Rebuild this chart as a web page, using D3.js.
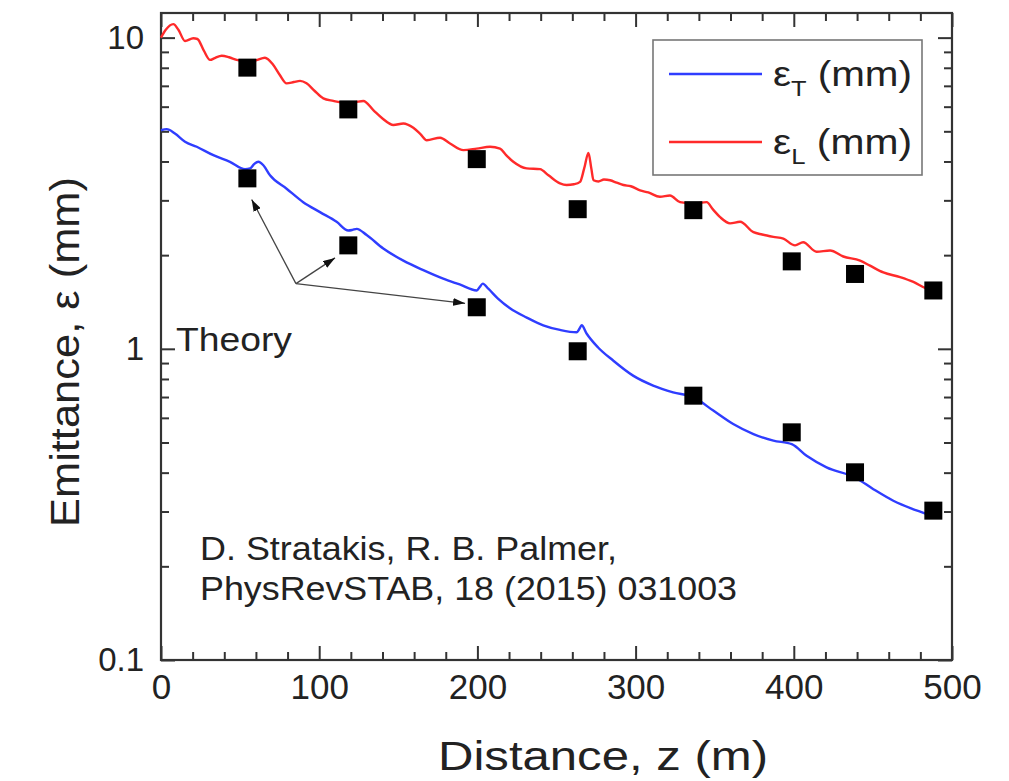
<!DOCTYPE html>
<html>
<head>
<meta charset="utf-8">
<script src="https://cdn.jsdelivr.net/npm/d3@7"></script>
<style>
  html, body { margin: 0; padding: 0; background: #fff; }
  svg { display: block; }
  text { font-family: "Liberation Sans", Arial, Helvetica, sans-serif; fill: #222; }
</style>
</head>
<body>
<svg id="chart" width="1009" height="781"></svg>
<script>
// Simulated longitudinal emittance along the channel (z in m, eps in mm)
const simZL = [0, 3, 7.8, 11, 15.2, 20.4, 23, 27, 31, 34, 38.4, 43, 47.8, 54.6, 60, 65.7, 71, 75, 79.4, 84,
  87.9, 92, 97, 102.6, 108.9, 118.4, 123, 127.9, 134.2, 140, 146.9, 153.2, 159.5, 164, 168, 176.4, 182.7,
  191.2, 199.6, 208, 214.3, 218, 222.7, 231.2, 239.6, 244.9, 252.2, 256.4, 261, 264.9, 267.5, 270.2, 272,
  273.4, 276.5, 280, 283.9, 288, 292.3, 297, 302.8, 308, 315.4, 321.7, 328.1, 336.5, 344.9, 349, 353.4,
  359.7, 366, 374.5, 380, 387.1, 393.4, 400.8, 405.9, 414.4, 422.9, 431.3, 441.9, 448.2, 456.6, 467.2,
  475.6, 484.1, 488.2];
const simEpsL = [10.0, 10.6, 11.05, 10.6, 9.75, 9.95, 9.9, 9.1, 8.48, 8.6, 8.75, 8.65, 8.48, 8.37, 8.45, 8.62,
  8.17, 7.6, 7.13, 7.2, 7.26, 7.13, 6.75, 6.38, 6.26, 6.15, 6.2, 6.26, 5.85, 5.5, 5.24, 5.30, 5.13, 4.9, 4.68,
  4.77, 4.57, 4.35, 4.40, 4.46, 4.40, 4.2, 3.99, 3.80, 3.78, 3.61, 3.40, 3.36, 3.38, 3.44, 3.8, 4.26, 3.8,
  3.48, 3.45, 3.5, 3.48, 3.42, 3.36, 3.33, 3.23, 3.18, 3.08, 3.11, 2.96, 2.93, 2.96, 2.8, 2.65, 2.53, 2.56,
  2.37, 2.33, 2.29, 2.26, 2.15, 2.20, 2.05, 2.07, 1.98, 1.92, 1.85, 1.76, 1.70, 1.64, 1.56, 1.54];

// Simulated transverse emittance
const simZT = [0, 3.6, 8.8, 15.2, 22.6, 33.1, 43.6, 53.1, 56.3, 59, 61.5, 64.7, 68.9, 79.4, 89.9, 100.5, 111,
  118.4, 121, 123.7, 130, 140.5, 153.2, 165.8, 178.4, 188.8, 199.6, 201.5, 203.4, 206.9, 213, 220.6, 231.2,
  241.6, 252.2, 262.7, 264.5, 265.9, 269, 276.3, 285.8, 298.4, 311.1, 323.7, 336.5, 349.1, 361.7, 374.5,
  387.1, 398.7, 408.1, 420.7, 438.7, 450.3, 462.9, 475.6, 484.1, 488.2];
const simEpsT = [5.04, 5.08, 4.92, 4.63, 4.46, 4.19, 3.99, 3.78, 3.80, 3.93, 3.99, 3.89, 3.61, 3.27, 2.96, 2.75,
  2.56, 2.40, 2.41, 2.43, 2.32, 2.10, 1.92, 1.79, 1.68, 1.61, 1.54, 1.58, 1.62, 1.56, 1.45, 1.35, 1.26, 1.19,
  1.15, 1.13, 1.16, 1.19, 1.12, 1.01, 0.917, 0.82, 0.762, 0.725, 0.699, 0.633, 0.573, 0.532, 0.507, 0.494,
  0.453, 0.416, 0.386, 0.354, 0.325, 0.305, 0.294, 0.287];

// Theory points (black squares)
const theoryZ = [54.6, 118.4, 199.6, 263.4, 336.5, 398.7, 438.7, 488.2];
const theoryEpsL = [8.01, 5.88, 4.07, 2.81, 2.79, 1.91, 1.74, 1.54];
const theoryEpsT = [3.53, 2.15, 1.36, 0.982, 0.707, 0.539, 0.401, 0.302];

// Axis ticks
const xMajorTicks = [0, 100, 200, 300, 400, 500];
const xMinorTicks = d3.range(0, 501, 20).filter(v => v % 100 !== 0);
const yMajorTicks = [0.1, 1, 10];
const yTickLabels = ["0.1", "1", "10"];
const yMinorTicks = [0.2, 0.3, 0.4, 0.5, 0.6, 0.7, 0.8, 0.9, 2, 3, 4, 5, 6, 7, 8, 9];

// Annotation: arrows from the "Theory" label to the first three squares
const arrowFrom = [85.3, 1.62];
const arrowTips = [[57.3, 3.02], [110, 1.96], [192.2, 1.40]];

const legendItems = [
  { sym: "ε", sub: "T", unit: " (mm)", color: "#2f3dff" },
  { sym: "ε", sub: "L", unit: " (mm)", color: "#ff2a2a" }
];

const citationLines = ["D. Stratakis, R. B. Palmer,", "PhysRevSTAB, 18 (2015) 031003"];

const svg = d3.select("#chart");
const plotLeft = 161, plotTop = 13, plotRight = 952, plotBottom = 660;

const x = d3.scaleLinear().domain([0, 500]).range([plotLeft, plotRight]);
const y = d3.scaleLog().domain([0.1, 12]).range([plotBottom, plotTop]);

const frameColor = "#333";

// Axes with inward ticks on all four sides
function drawAxis(axisFn, scale, ticks, size, labels, translate, cls) {
  const ax = axisFn(scale).tickValues(ticks).tickSize(size).tickSizeOuter(0);
  if (labels) ax.tickFormat((d, i) => labels[i]); else ax.tickFormat("");
  const g = svg.append("g").attr("class", cls).attr("transform", translate).call(ax);
  g.select(".domain").remove();
  g.selectAll(".tick line").attr("stroke", frameColor).attr("stroke-width", 2);
  return g;
}

const majLen = 14, minLen = 8;
// bottom
const xb = drawAxis(d3.axisBottom, x, xMajorTicks, -majLen, xMajorTicks.map(String), `translate(0,${plotBottom})`, "xb");
xb.selectAll(".tick text").attr("y", 14).attr("dy", "0.71em").style("font-size", "35px").attr("fill", "#222");
drawAxis(d3.axisBottom, x, xMinorTicks, -minLen, null, `translate(0,${plotBottom})`, "xbm");
// top
drawAxis(d3.axisTop, x, xMajorTicks, -majLen, null, `translate(0,${plotTop})`, "xt");
drawAxis(d3.axisTop, x, xMinorTicks, -minLen, null, `translate(0,${plotTop})`, "xtm");
// left
const yl = drawAxis(d3.axisLeft, y, yMajorTicks, -majLen, yTickLabels, `translate(${plotLeft},0)`, "yl");
yl.selectAll(".tick text").attr("x", -17).style("font-size", "33px").attr("fill", "#222");
drawAxis(d3.axisLeft, y, yMinorTicks, -minLen, null, `translate(${plotLeft},0)`, "ylm");
// right
drawAxis(d3.axisRight, y, yMajorTicks, -majLen, null, `translate(${plotRight},0)`, "yr");
drawAxis(d3.axisRight, y, yMinorTicks, -minLen, null, `translate(${plotRight},0)`, "yrm");

// Plot frame
svg.append("rect")
  .attr("x", plotLeft).attr("y", plotTop)
  .attr("width", plotRight - plotLeft).attr("height", plotBottom - plotTop)
  .attr("fill", "none").attr("stroke", frameColor).attr("stroke-width", 2.2);

// Simulation curves
const line = d3.line().x(d => x(d[0])).y(d => y(d[1])).curve(d3.curveMonotoneX);
const curveL = simZL.map((z, i) => [z, simEpsL[i]]);
const curveT = simZT.map((z, i) => [z, simEpsT[i]]);

svg.append("path").datum(curveL).attr("d", line)
  .attr("fill", "none").attr("stroke", legendItems[1].color).attr("stroke-width", 2.4)
  .attr("stroke-linejoin", "round");
svg.append("path").datum(curveT).attr("d", line)
  .attr("fill", "none").attr("stroke", legendItems[0].color).attr("stroke-width", 2.4)
  .attr("stroke-linejoin", "round");

// Theory squares
const sq = 18;
const pts = theoryZ.map((z, i) => [z, theoryEpsL[i]]).concat(theoryZ.map((z, i) => [z, theoryEpsT[i]]));
svg.append("g").selectAll("rect").data(pts).join("rect")
  .attr("x", d => x(d[0]) - sq / 2).attr("y", d => y(d[1]) - sq / 2)
  .attr("width", sq).attr("height", sq).attr("fill", "#000");

// Arrows
const defs = svg.append("defs");
defs.append("marker").attr("id", "head")
  .attr("viewBox", "0 0 12 8").attr("refX", 12).attr("refY", 4)
  .attr("markerWidth", 12).attr("markerHeight", 8)
  .attr("markerUnits", "userSpaceOnUse").attr("orient", "auto")
  .append("path").attr("d", "M0,0 L12,4 L0,8 Z").attr("fill", "#111");

svg.append("g").selectAll("line").data(arrowTips).join("line")
  .attr("x1", x(arrowFrom[0])).attr("y1", y(arrowFrom[1]))
  .attr("x2", d => x(d[0])).attr("y2", d => y(d[1]))
  .attr("stroke", "#444").attr("stroke-width", 1.3)
  .attr("marker-end", "url(#head)");

svg.append("text").attr("x", 176).attr("y", 351)
  .style("font-size", "34px")
  .attr("textLength", 116).attr("lengthAdjust", "spacingAndGlyphs")
  .text("Theory");

// Citation
const citeWidths = [417, 537];
citationLines.forEach((s, i) => {
  svg.append("text").attr("x", 200).attr("y", 560 + i * 40)
    .style("font-size", "34px")
    .attr("textLength", citeWidths[i]).attr("lengthAdjust", "spacingAndGlyphs")
    .text(s);
});

// Axis titles
svg.append("text").attr("x", 438).attr("y", 770)
  .style("font-size", "41px")
  .attr("textLength", 330).attr("lengthAdjust", "spacingAndGlyphs")
  .text("Distance, z (m)");
svg.append("text").attr("transform", "translate(79,527) rotate(-90)")
  .style("font-size", "40px")
  .attr("textLength", 350).attr("lengthAdjust", "spacingAndGlyphs")
  .text("Emittance, ε (mm)");

// Legend
const lg = svg.append("g");
lg.append("rect").attr("x", 653).attr("y", 40).attr("width", 269).attr("height", 135)
  .attr("fill", "#fff").attr("stroke", "#777").attr("stroke-width", 1.6);
legendItems.forEach((it, i) => {
  const ly = 74 + i * 68;
  lg.append("line").attr("x1", 669).attr("x2", 762).attr("y1", ly).attr("y2", ly)
    .attr("stroke", it.color).attr("stroke-width", 2.4);
  const t = lg.append("text").attr("x", 773).attr("y", ly + 12).style("font-size", "35px")
    .attr("textLength", 139).attr("lengthAdjust", "spacingAndGlyphs");
  t.append("tspan").text(it.sym);
  t.append("tspan").attr("dy", 10).style("font-size", "22px").text(it.sub);
  t.append("tspan").attr("dy", -10).text(it.unit);
});
</script>
</body>
</html>
